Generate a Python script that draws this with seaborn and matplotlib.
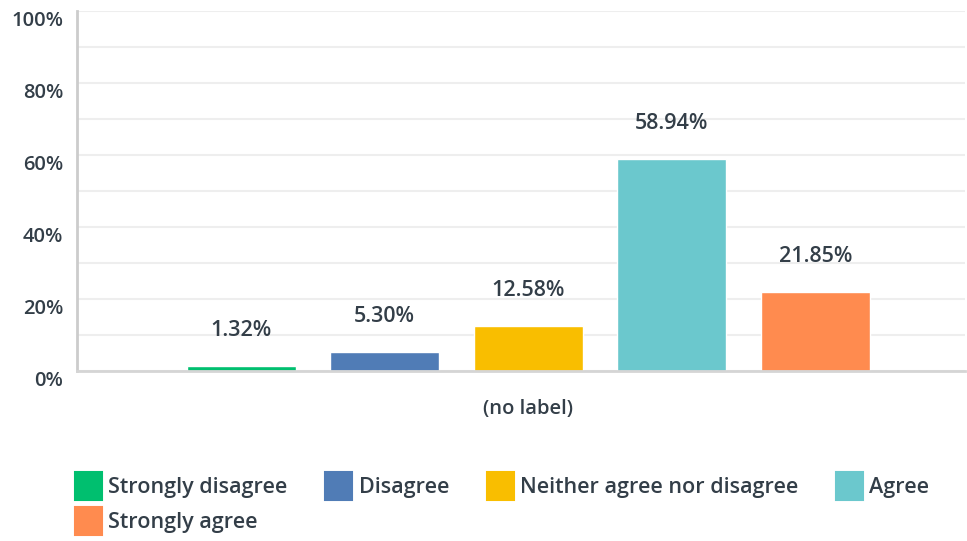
import seaborn as sns
import pandas as pd
import matplotlib.pyplot as plt
import matplotlib.transforms as mtransforms
from matplotlib.patches import Patch

sns.set_style("white")
plt.rcParams['font.family'] = ['Open Sans', 'DejaVu Sans']

answers = ["Strongly disagree", "Disagree", "Neither agree nor disagree", "Agree", "Strongly agree"]
percents = [1.32, 5.30, 12.58, 58.94, 21.85]
colors = ["#00BF6F", "#507CB6", "#F9BE00", "#6BC8CD", "#FF8B4F"]
question = ["(no label)"] * len(answers)
yticks = [0, 20, 40, 60, 80, 100]

df = pd.DataFrame({"question": question, "answer": answers, "percent": percents})
text_col = "#333E48"
wt = "semibold"

fig = plt.figure(figsize=(9.67, 5.41), dpi=100)
ax = fig.add_axes([77 / 967, 1 - 371 / 541, 888 / 967, 360 / 541])

sns.barplot(data=df, x="question", y="percent", hue="answer", hue_order=answers,
            palette=colors, gap=0.24, width=0.8, saturation=1, legend=False, ax=ax)

for cont in ax.containers:
    ax.bar_label(cont, labels=["%.2f%%" % v for v in cont.datavalues], padding=18,
                 fontsize=15.5, fontweight=wt, color=text_col)

ax.set_ylim(0, 100)
ax.set_xlim(-0.503, 0.487)
ax.set_yticks(yticks)
ax.set_yticklabels(["%d%%" % t for t in yticks], fontsize=14.5, fontweight=wt, color=text_col)
ax.set_yticks(range(10, 101, 20), minor=True)
ax.yaxis.grid(True, which="both", color="#EEEEEE", linewidth=1.5)
ax.set_axisbelow(True)
ax.tick_params(axis="y", which="both", length=0, pad=10)
ax.tick_params(axis="x", length=0, pad=20, labelsize=14.5, labelcolor=text_col)
for lab in ax.get_xticklabels():
    lab.set_fontweight(wt)
offset = mtransforms.ScaledTranslation(0, -7 / 100, fig.dpi_scale_trans)
for lab in ax.get_yticklabels():
    lab.set_transform(lab.get_transform() + offset)
ax.set_xlabel("")
ax.set_ylabel("")
for s in ["top", "right"]:
    ax.spines[s].set_visible(False)
ax.spines["left"].set_color("#CCCCCC")
ax.spines["left"].set_linewidth(2)
ax.spines["bottom"].set_color("#D5D5D5")
ax.spines["bottom"].set_linewidth(2)

handles = [Patch(facecolor=c, edgecolor=c, linewidth=1.5, joinstyle="round") for c in colors]
order = [0, 4, 1, 2, 3]
leg = fig.legend([handles[i] for i in order], [answers[i] for i in order],
                 loc="upper left", bbox_to_anchor=(75 / 967, 1 - 472 / 541), ncol=4,
                 frameon=False, handlelength=1.25, handleheight=1.65, handletextpad=0.3,
                 columnspacing=1.75, labelspacing=0.3, borderaxespad=0, borderpad=0,
                 prop={"size": 15.5, "weight": wt})
for t in leg.get_texts():
    t.set_color(text_col)

fig.savefig("out.png", dpi=100)
